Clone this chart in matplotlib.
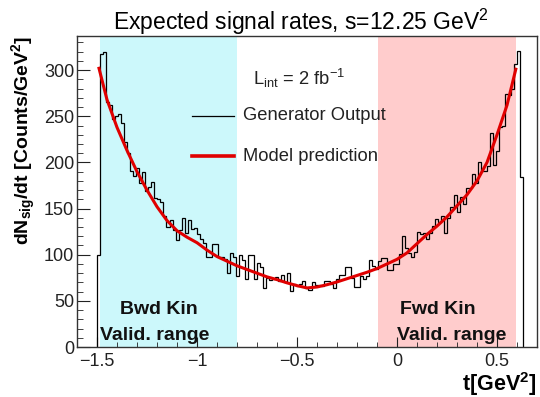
import numpy as np
import matplotlib
matplotlib.use("Agg")
import matplotlib.pyplot as plt
from matplotlib.ticker import MultipleLocator

plt.rcParams['font.family'] = ['Liberation Sans', 'DejaVu Sans']
plt.rcParams['mathtext.fontset'] = 'custom'
plt.rcParams['mathtext.rm'] = 'Liberation Sans'
plt.rcParams['mathtext.it'] = 'Liberation Sans:italic'
plt.rcParams['mathtext.bf'] = 'Liberation Sans:bold'

# ---- data ----
t_min, t_max = -1.5, 0.63
counts = [
    100, 318, 320, 265, 262, 247, 250, 253, 243, 222,
    210, 191, 185, 194, 178, 190, 169, 173, 179, 161,
    160, 157, 142, 130, 138, 127, 116, 127, 140, 124,
    138, 128, 129, 122, 117, 113, 98, 98, 112, 112,
    98, 97, 95, 80, 102, 97, 77, 100, 94, 74,
    100, 100, 74, 91, 87, 64, 75, 73, 74, 76,
    72, 78, 70, 80, 61, 68, 66, 68, 71, 64,
    62, 70, 67, 67, 66, 72, 72, 68, 64, 74,
    78, 78, 87, 87, 75, 65, 65, 77, 74, 77,
    94, 88, 85, 93, 96, 96, 83, 83, 90, 90,
    101, 120, 107, 102, 98, 103, 125, 122, 123, 117,
    123, 131, 139, 135, 142, 124, 140, 152, 165, 146,
    162, 155, 172, 172, 188, 178, 201, 191, 191, 196,
    232, 197, 212, 238, 239, 274, 273, 280, 307, 321,
    184,
]

model_t = [-1.49, -1.45, -1.40, -1.35, -1.30, -1.25, -1.20, -1.15, -1.10, -1.05,
           -1.00, -0.95, -0.90, -0.85, -0.80, -0.75, -0.70, -0.65, -0.60, -0.55,
           -0.50, -0.45, -0.40, -0.35, -0.30, -0.25, -0.20, -0.15, -0.10, -0.05,
           0.00, 0.05, 0.10, 0.15, 0.20, 0.25, 0.30, 0.35, 0.40, 0.45,
           0.50, 0.55, 0.594]
model_v = [302, 268, 238, 213, 190, 170, 152, 137, 126, 119,
           113, 105, 98, 93, 88, 84, 80, 76, 73, 69.5,
           66.5, 64, 65, 67.5, 70.5, 74, 77.5, 81, 85, 90,
           95, 102, 112, 122, 131, 141, 153, 165, 180, 200,
           230, 262, 301]

bwd_range = (-1.487, -0.80)
fwd_range = (-0.095, 0.597)

title = "Expected signal rates, s=12.25 GeV$^{2}$"
xlabel = "t[GeV$^{\\mathbf{2}}$]"
ylabel = "dN$_{\\mathbf{sig}}$/dt [Counts/GeV$^{\\mathbf{2}}$]"

# ---- figure ----
W, H = 540, 397
fig = plt.figure(figsize=(W / 100, H / 100), dpi=100)
L, R, B, T = 77, 537, 347, 36
ax = fig.add_axes([L / W, 1 - B / H, (R - L) / W, (B - T) / H])

ax.set_xlim(-1.6, 0.7)
ax.set_ylim(0, 337)

ax.axvspan(*bwd_range, color='#ccf8fb', lw=0, zorder=0)
ax.axvspan(*fwd_range, color='#ffcccc', lw=0, zorder=0)

edges = np.linspace(t_min, t_max, len(counts) + 1)
ax.stairs(counts, edges, color='black', lw=0.9, baseline=0, zorder=2)
ax.plot(model_t, model_v, color='#e00000', lw=2.2, zorder=3)

# legend (manual, ROOT style)
ax.plot([0.249, 0.341], [0.743, 0.743], transform=ax.transAxes, color='black', lw=0.9)
ax.plot([0.249, 0.341], [0.614, 0.614], transform=ax.transAxes, color='#e00000', lw=2.6)
ax.text(0.361, 0.743, "Generator Output", transform=ax.transAxes, fontsize=13.2,
        va='center', ha='left', color='#222222')
ax.text(0.361, 0.614, "Model prediction", transform=ax.transAxes, fontsize=13.2,
        va='center', ha='left', color='#222222')
ax.text(0.383, 0.865, "L$_{\\mathrm{int}}$ = 2 fb$^{-1}$", transform=ax.transAxes,
        fontsize=13.2, va='center', ha='left', color='#222222')

# range annotations
kw = dict(transform=ax.transAxes, fontsize=14, fontweight='bold', va='center',
          ha='left', color='#111111')
ax.text(0.093, 0.119, "Bwd Kin", **kw)
ax.text(0.050, 0.038, "Valid. range", **kw)
ax.text(0.702, 0.119, "Fwd Kin", **kw)
ax.text(0.696, 0.038, "Valid. range", **kw)

# axes styling
ax.xaxis.set_major_locator(MultipleLocator(0.5))
ax.xaxis.set_minor_locator(MultipleLocator(0.1))
ax.yaxis.set_major_locator(MultipleLocator(50))
ax.yaxis.set_minor_locator(MultipleLocator(10))
ax.tick_params(which='both', direction='in', top=False, right=False, labelsize=13,
               colors='#222222')
ax.tick_params(axis='y', which='major', length=9, pad=2)
ax.tick_params(axis='y', which='minor', length=4.5)
ax.tick_params(axis='x', which='major', length=7, pad=4)
ax.tick_params(axis='x', which='minor', length=3.5)
ax.set_xticks([-1.5, -1, -0.5, 0, 0.5])
ax.set_xticklabels(["\u22121.5", "\u22121", "\u22120.5", "0", "0.5"])
for s in ax.spines.values():
    s.set_linewidth(1.0)
    s.set_color('#333333')

fig.text(301 / W, 1 - 22 / H, title, fontsize=16.5, ha='center', va='center')
ax.set_xlabel(xlabel, fontsize=15.5, fontweight='bold', loc='right')
ax.xaxis.set_label_coords(1.0, -0.075)
ax.set_ylabel(ylabel, fontsize=14, fontweight='bold', loc='top')
ax.yaxis.set_label_coords(-0.085, 1.0)

fig.savefig("out.png", dpi=100)
